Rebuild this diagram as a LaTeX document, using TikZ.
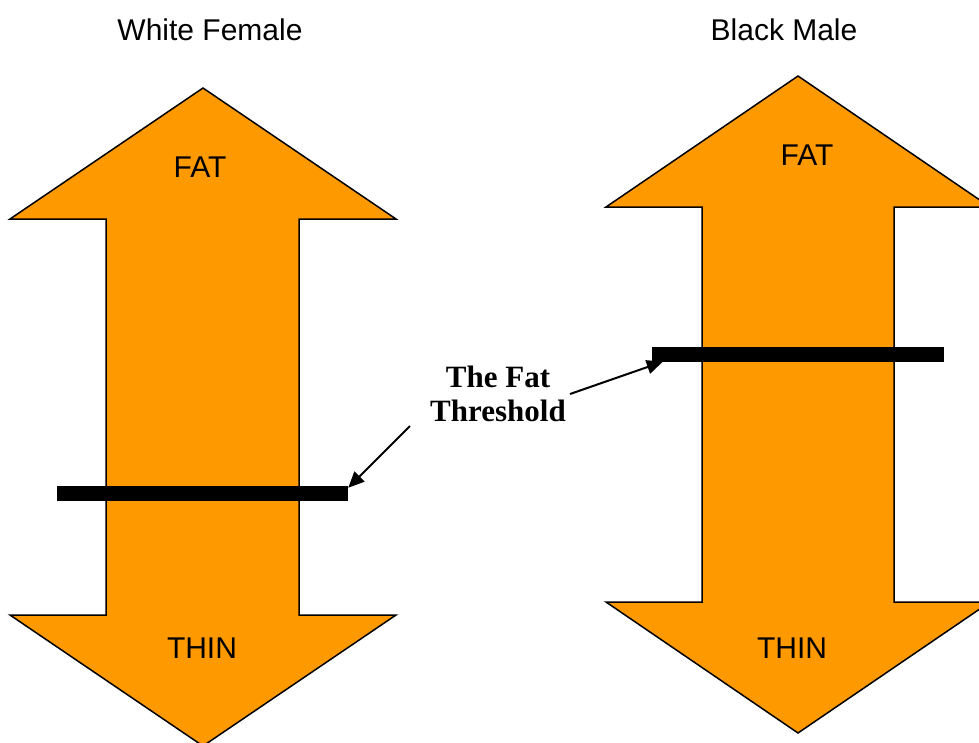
\documentclass[tikz,border=0pt]{standalone}
\usepackage{fontspec}
\setmainfont{Liberation Sans}
\newfontfamily\thrfont{Liberation Serif}
\usetikzlibrary{arrows.meta}
\definecolor{fatorange}{RGB}{255,153,0}
\tikzset{
  bigarrow/.style={fill=fatorange, draw=black, line width=1.5pt, line join=miter},
  bar/.style={fill=black, draw=none, minimum height=15pt, inner sep=0pt},
  lbl/.style={inner sep=0pt, font=\fontsize{30}{34}\selectfont},
  pointer/.style={line width=2pt, -{Triangle[length=16pt,width=14pt]}}
}
\begin{document}
\begin{tikzpicture}[x=1pt,y=-1pt]
        \useasboundingbox (0,0) rectangle (979,742);
        % ==== DOUBLE ARROWS ====
        \filldraw[bigarrow] (203,88) -- (396,219) -- (299,219) -- (299,615) -- (396,615)
            -- (203,746) -- (10,615) -- (106,615) -- (106,219) -- (10,219) -- cycle;
        \filldraw[bigarrow] (798,76) -- (990,207) -- (894,207) -- (894,602) -- (990,602)
            -- (798,733) -- (606,602) -- (702,602) -- (702,207) -- (606,207) -- cycle;
        % ==== TITLES ====
        \node[lbl] (titleW) at (210,30) {White Female};
        \node[lbl] (titleB) at (784,30) {Black Male};
        \node[lbl] (fatW) at (200,167) {FAT};
        \node[lbl] (thinW) at (202,648) {THIN};
        \node[lbl] (fatB) at (807,155) {FAT};
        \node[lbl] (thinB) at (792,648) {THIN};
        % ==== THRESHOLD BARS ====
        \node[bar, minimum width=291pt] (barW) at (202.5,493.5) {};
        \node[bar, minimum width=292pt] (barB) at (798,354) {};
        % ==== LABEL ====
        \node[inner sep=0pt, align=center, font=\thrfont\bfseries\fontsize{31}{34}\selectfont]
            (thresh) at (498,394) {The Fat\\Threshold};
        \coordinate (fromW) at (410,426);
        \coordinate (fromB) at (570,394);
        \draw[pointer] (fromW) -- ([yshift=-2pt]barW.north east);
        \draw[pointer] (fromB) -- ([xshift=11pt]barB.south west);
     \end{tikzpicture}
\end{document}
